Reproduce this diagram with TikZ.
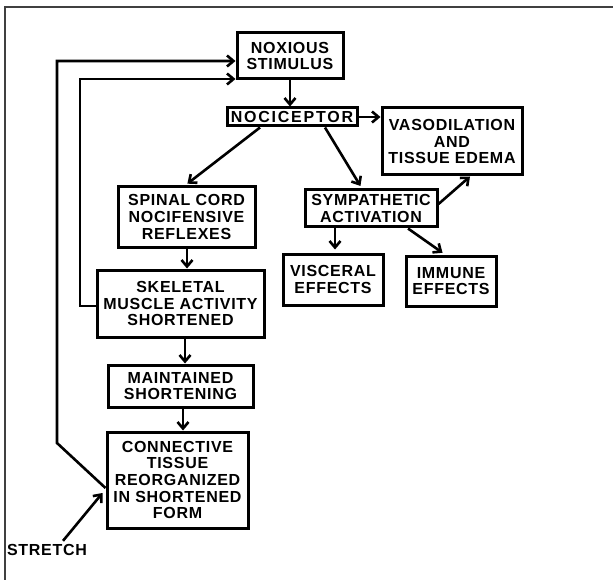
\documentclass[tikz,border=0pt]{standalone}
\usepackage{fontspec}
\setmainfont{Liberation Sans}[LetterSpace=4.5]
\usetikzlibrary{positioning,calc,arrows.meta}

\tikzset{
  box/.style={draw, line width=3pt, align=center, inner sep=0pt,
    font=\bfseries\fontsize{16}{16.7}\selectfont},
  flow/.style={line width=2.6pt, -{Straight Barb[length=6.5pt,width=11pt]}},
}

\begin{document}
\begin{tikzpicture}[x=1pt,y=1pt]
\useasboundingbox (0,0) rectangle (613,-580);
\draw [line width=1.3pt, black!75] (5,-580) -- (5,-7) -- (613,-7);
\node [box, minimum width=106pt, minimum height=46pt] (stim) at (290,-56) {NOXIOUS\\STIMULUS};
\node [box, below of=stim, node distance=61pt, xshift=2pt, minimum width=130pt, minimum height=18pt] (noci) {\addfontfeature{LetterSpace=11}NOCICEPTOR};
\node [box, right of=noci, node distance=160pt, yshift=-24.5pt, minimum width=140pt, minimum height=67pt] (vaso) {VASODILATION\\AND\\TISSUE EDEMA};
\node [box, below of=noci, node distance=100pt, xshift=-105.5pt, minimum width=137pt, minimum height=60pt] (spinal) {SPINAL CORD\\NOCIFENSIVE\\REFLEXES};
\node [box, below of=noci, node distance=91.5pt, xshift=79pt, minimum width=132pt, minimum height=37pt] (symp) {SYMPATHETIC\\ACTIVATION};
\node [box, below of=symp, node distance=71pt, xshift=-38pt, minimum width=100pt, minimum height=51pt] (visc) {VISCERAL\\EFFECTS};
\node [box, right of=visc, node distance=118pt, yshift=-1.5pt, minimum width=90pt, minimum height=50pt] (immune) {IMMUNE\\EFFECTS};
\node [box, below of=spinal, node distance=86.5pt, xshift=-6pt, minimum width=167pt, minimum height=67pt] (skel) {SKELETAL\\MUSCLE ACTIVITY\\SHORTENED};
\node [box, below of=skel, node distance=82.5pt, minimum width=145pt, minimum height=42pt] (maint) {MAINTAINED\\SHORTENING};
\node [box, below of=maint, node distance=94pt, xshift=-3pt, minimum width=141pt, minimum height=96pt] (conn) {CONNECTIVE\\TISSUE\\REORGANIZED\\IN SHORTENED\\FORM};
\node [box, draw=none] (stretch) at (47,-550) {STRETCH};
% feedback loops
\coordinate (loopA) at (80,-79);
\coordinate (loopB) at (57,-61);
\coordinate (bendB) at (57,-443);
\draw [flow] (stim.south) -- (stim.south |- noci.north);
\draw [flow] (noci.east) -- (noci.east -| vaso.west);
\draw [flow, shorten >=3pt] ([xshift=-32pt]noci.south) -- ([xshift=-1.5pt]spinal.north);
\draw [flow, shorten >=3pt] ([xshift=33pt]noci.south) -- ([xshift=-9pt]symp.north);
\draw [flow] ([yshift=4.5pt]symp.east) -- ([xshift=18pt]vaso.south);
\draw [flow, shorten >=3pt] ([xshift=2pt]visc.north |- symp.south) -- ([xshift=2pt]visc.north);
\draw [flow, shorten >=3pt] ([xshift=37pt]symp.south) -- ([xshift=-6pt]immune.north);
\draw [flow] ([xshift=0.5pt]spinal.south) -- ([xshift=6.5pt]skel.north);
\draw [flow] ([xshift=4.5pt]skel.south) -- ([xshift=4.5pt]maint.north);
\draw [flow] ([xshift=2.5pt]maint.south) -- ([xshift=5.5pt]conn.north);
\draw [flow] ([yshift=-2.5pt]skel.west) -| (loopA) -- (loopA -| stim.west);
\draw [flow] ([yshift=-8pt]conn.west) -- (bendB) -- (loopB) -- (loopB -| stim.west);
\draw [flow] ([xshift=16pt,yshift=2pt]stretch.north) -- ([xshift=-3pt,yshift=-13pt]conn.west);
\end{tikzpicture}
\end{document}
